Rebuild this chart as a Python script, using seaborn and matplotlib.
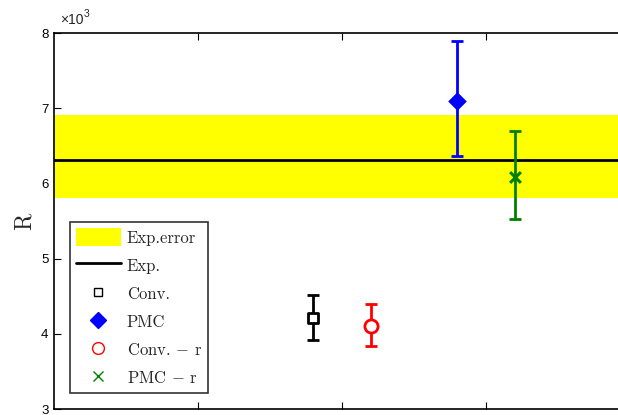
import matplotlib
matplotlib.use("Agg")
import matplotlib.pyplot as plt
import seaborn as sns
import pandas as pd
from matplotlib.patches import Patch
from matplotlib.lines import Line2D

sns.set_theme(style="white")
plt.rcParams['font.family'] = ['Liberation Sans', 'DejaVu Sans']
plt.rcParams['mathtext.fontset'] = 'cm'

# data (values in units of 1e3)
methods = ["Conv.", "PMC", "Conv. - r", "PMC - r"]
positions = [1.8, 2.8, 2.2, 3.2]
values = [4.21, 7.09, 4.11, 6.08]
err_low = [0.29, 0.72, 0.27, 0.55]
err_high = [0.31, 0.81, 0.29, 0.62]
colors = ["black", "blue", "red", "green"]
markers = ["s", "D", "o", "x"]
exp_value = 6.31
exp_low, exp_high = 5.80, 6.91
legend_labels = ["Exp.error", "Exp.", "Conv.", "PMC", "Conv. $-$ r", "PMC $-$ r"]

df = pd.DataFrame({"method": methods, "x": positions, "R": values,
                   "lo": err_low, "hi": err_high})

fig = plt.figure(figsize=(6.18, 4.15), dpi=100)
ax = fig.add_axes([54/618, 6/415, 576/618, 376/415])

ax.axhspan(exp_low, exp_high, color="yellow", lw=0, zorder=1)
sns.lineplot(x=[0, 4], y=[exp_value, exp_value], color="black", lw=2, ax=ax, zorder=2)

for i, row in df.iterrows():
    ax.errorbar(row["x"], row["R"], yerr=[[row["lo"]], [row["hi"]]], fmt="none",
                ecolor=colors[i], elinewidth=2, capsize=4, capthick=2, zorder=3)

size_map = {"Conv.": 55, "PMC": 90, "Conv. - r": 90, "PMC - r": 60}
for i, m in enumerate(methods):
    sub = df[df["method"] == m]
    if markers[i] == "x":
        sns.scatterplot(data=sub, x="x", y="R", marker="x", color=colors[i],
                        s=size_map[m], linewidth=2.2, ax=ax, zorder=4, legend=False)
    elif markers[i] == "D":
        sns.scatterplot(data=sub, x="x", y="R", marker="D", color=colors[i],
                        s=size_map[m], linewidth=0, ax=ax, zorder=4, legend=False)
    else:
        sns.scatterplot(data=sub, x="x", y="R", marker=markers[i], facecolor="white",
                        edgecolor=colors[i], s=size_map[m], linewidth=2, ax=ax, zorder=4,
                        legend=False)

ax.set_xlim(0, 4)
ax.set_ylim(3, 8)
ax.set_xticks([1, 2, 3])
ax.set_xticklabels([])
ax.set_yticks([3, 4, 5, 6, 7, 8])
ax.set_yticklabels(["3", "4", "5", "6", "7", "8"], fontsize=9.5)
ax.set_xlabel("")
ax.set_ylabel("R", fontsize=17, labelpad=4, family="cmr10")
ax.tick_params(direction="in", length=5, width=0.8, top=True, right=True,
               left=True, bottom=True, colors="black", pad=4)
for s in ax.spines.values():
    s.set_color("black")
    s.set_linewidth(1.2)
ax.text(60/618, 1 - 24/415, "×10", transform=fig.transFigure, fontsize=10,
        ha="left", va="baseline")
ax.text(84/618, 1 - 17/415, "3", transform=fig.transFigure, fontsize=7.5,
        ha="left", va="baseline")

handles = [
    Patch(facecolor="yellow", edgecolor="none"),
    Line2D([], [], color="black", lw=2),
    Line2D([], [], marker="s", ls="none", mfc="white", mec="black", ms=6, mew=1),
    Line2D([], [], marker="D", ls="none", mfc="blue", mec="blue", ms=8),
    Line2D([], [], marker="o", ls="none", mfc="white", mec="red", ms=8.5, mew=1),
    Line2D([], [], marker="x", ls="none", mec="green", ms=7, mew=1),
]
leg = ax.legend(handles, legend_labels, loc="lower left", bbox_to_anchor=(0.028, 0.043),
                borderaxespad=0, prop={"family": "cmr10", "size": 12}, frameon=True,
                fancybox=False, edgecolor="black", labelspacing=0.6, handlelength=2.7,
                handleheight=1.3, handletextpad=0.35, borderpad=0.35)
leg.get_frame().set_linewidth(1.2)

fig.savefig("out.png", dpi=100)
